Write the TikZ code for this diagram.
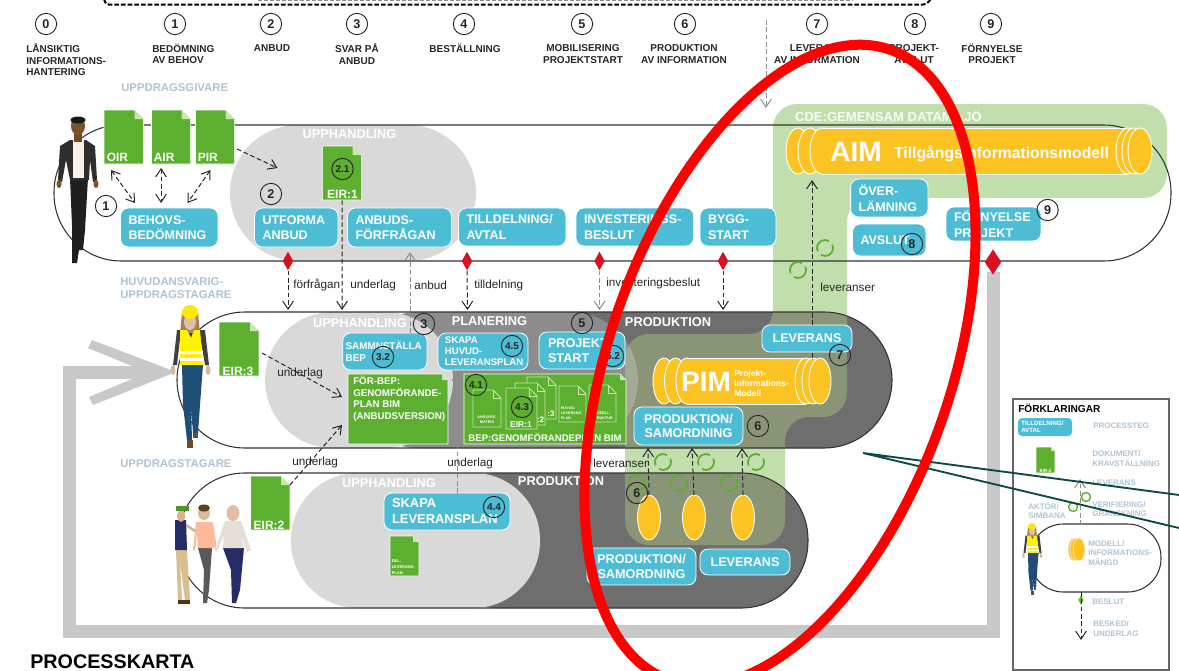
\documentclass[tikz,border=0pt]{standalone}
\usepackage{fontspec}
\setmainfont{Liberation Sans}
\usetikzlibrary{arrows.meta,shapes.geometric}
\definecolor{bluebx}{HTML}{4DBDD5}
\definecolor{docg}{HTML}{5CAF2F}
\definecolor{docf}{HTML}{C8E6B0}
\definecolor{cde}{HTML}{C1DFAC}
\definecolor{olive}{HTML}{8A9577}
\definecolor{olivel}{HTML}{A3AB95}
\definecolor{gl}{HTML}{D9D9D9}
\definecolor{gm}{HTML}{8C8C8C}
\definecolor{gd}{HTML}{6E6E6E}
\definecolor{band}{HTML}{C8C8C8}
\definecolor{yel}{HTML}{FDC323}
\definecolor{red1}{HTML}{D9101E}
\definecolor{actor}{HTML}{B0C4D4}
\definecolor{teal1}{HTML}{0B4A45}
\definecolor{cyc1}{HTML}{5AAF2D}
\definecolor{jeans}{HTML}{1F4E79}
\definecolor{navy1}{HTML}{252C66}
\definecolor{khaki}{HTML}{D9BE8E}
\definecolor{skin1}{HTML}{E0BFA5}
\newcommand\fs[2]{\fontsize{#1}{#2}\selectfont\bfseries}
\tikzset{
 lab/.style={inner sep=0pt,font=\fs{7.5}{8.6},text=black!85,align=center},
 actorlab/.style={inner sep=0pt,font=\fs{8.5}{9.8},text=actor,align=left,anchor=west},
 whead/.style={inner sep=0pt,font=\fs{9.6}{11},text=white},
 flowtxt/.style={inner sep=0pt,font=\fontsize{8.8}{10}\selectfont,text=black!85},
 leg/.style={inner sep=0pt,font=\fs{6}{7},text=actor,align=left,anchor=west},
 bluebox/.style={rectangle,rounded corners=6pt,fill=bluebx,draw=white,line width=.6pt,text=white,inner ysep=0pt,font=\fs{9.4}{11.6}},
 numc/.style={circle,draw=black!85,line width=.7pt,minimum size=16pt,inner sep=0pt,font=\fs{9.5}{11},text=black!85},
 subc/.style={numc,font=\fs{7.5}{9}},
 reddia/.style={diamond,fill=red1,inner sep=0pt,minimum width=8pt,minimum height=14pt},
 arr/.style={draw=black!85,line width=.75pt,dash pattern=on 3.5pt off 2pt,-{Straight Barb[length=6pt,width=8pt]}},
 garr/.style={arr,draw=black!45},
 dblarr/.style={arr,{Straight Barb[length=6pt,width=8pt]}-{Straight Barb[length=6pt,width=8pt]}},
 stad/.style={draw=black!80,line width=.8pt},
 cyc/.style={draw=cyc1,line width=1.3pt},
 worker/.pic={
  \fill[black!75] (-9,25)--(9,25)--(10,60)--(-9,60)--cycle;
  \fill[black!75] (-13,25)--(-9,25)--(-13,60)--(-17,60)--cycle;
  \fill[black!75] (9,25)--(15,25)--(19,60)--(15,60)--cycle;
  \fill[skin1!85!brown] (-17,65) ellipse[x radius=2.5,y radius=5];
  \fill[skin1!85!brown] (18,65) ellipse[x radius=2.5,y radius=5];
  \fill[brown!60!gray] (-8,8)--(8,8)--(10,28)--(-10,28)--cycle;
  \fill[skin1] (0,17) ellipse[x radius=6,y radius=8];
  \fill[yellow!92!orange] (0,7) ellipse[x radius=8,y radius=7];
  \fill[yellow!92!orange] (-9,8) rectangle (9,10);
  \fill[yellow] (-10,25)--(-3,25)--(1,33)--(4,25)--(10,25)--(13,60)--(-10,60)--cycle;
  \fill[white] (-10,46) rectangle (12.5,49);
  \fill[white] (-10,53) rectangle (13,56);
  \fill[black!60] (-8,60) -- (13,60) -- (13,61) -- (-8,61) -- cycle;
  \fill[jeans] (-8,60)--(13,60)--(10,100)--(8,128)--(3,128)--(1,100)--(2,135)--(-3,135)--(-7,100)--cycle;
  \fill[brown!60!black] (-3,135) rectangle (3,143);
  \fill[brown!60!black] (3,128) rectangle (8,133);
 }
}
\def\bxi{6}
% blue box: [options]{name}{x1}{y1}{x2}{y2}{text}
\newcommand\bbox[7][align=left]{%
 \pgfmathsetmacro\bw{(#5-#3)*0.75}%
 \pgfmathsetmacro\bh{(#6-#4)*0.75}%
 \pgfmathsetmacro\tw{\bw-2*\bxi}%
 \node[bluebox,minimum width=\bw pt,minimum height=\bh pt,text width=\tw pt,inner xsep=\bxi pt,#1] (#2) at ({(#3+#5)/2},{(#4+#6)/2}) {#7};%
}
% document: {name}{x1}{y1}{x2}{y2}{fold}
\newcommand\docu[6]{%
 \fill[docg,draw=white,line width=.4pt] (#2,#3)--({#4-#6},#3)--(#4,{#3+#6})--(#4,#5)--(#2,#5)--cycle;
 \fill[docf] ({#4-#6},#3)--(#4,{#3+#6})--({#4-#6},{#3+#6})--cycle;
 \pgfmathsetmacro\bw{(#4-#2)*0.75}\pgfmathsetmacro\bh{(#5-#3)*0.75}%
 \node[inner sep=0pt,minimum width=\bw pt,minimum height=\bh pt] (#1) at ({(#2+#4)/2},{(#3+#5)/2}) {};%
}
\newcommand\odoc[5]{%
 \filldraw[fill=docg,draw=docf,line width=.6pt] (#1,#2)--({#3-#5},#2)--(#3,{#2+#5})--(#3,#4)--(#1,#4)--cycle;
 \draw[docf,line width=.5pt] ({#3-#5},#2)--({#3-#5},{#2+#5})--(#3,{#2+#5});
}
% cylinder: {x1}{dLeft}{rx}{e1}{dRight}{yc}{ry}
\newcommand\cyl[7]{%
 \filldraw[fill=yel,draw=white,line width=.7pt] ({#1+#3},#6) ellipse[x radius=#3,y radius=#7];
 \filldraw[fill=yel,draw=white,line width=.7pt] ({#1+#3+#2},#6) ellipse[x radius=#3,y radius=#7];
 \filldraw[fill=yel,draw=white,line width=.7pt] ({#1+#3+2*#2},#6) ellipse[x radius=#3,y radius=#7];
 \fill[yel] ({#1+#3+2*#2},{#6-#7}) rectangle ({#4+#3},{#6+#7});
 \draw[white,line width=.7pt] ({#1+#3+2*#2},{#6-#7}) -- ({#4+#3},{#6-#7}) ({#1+#3+2*#2},{#6+#7}) -- ({#4+#3},{#6+#7});
 \filldraw[fill=yel,draw=white,line width=.7pt] ({#4+#3},#6) ellipse[x radius=#3,y radius=#7];
 \filldraw[fill=yel,draw=white,line width=.7pt] ({#4+#5+#3},#6) ellipse[x radius=#3,y radius=#7];
 \filldraw[fill=yel,draw=white,line width=.7pt] ({#4+2*#5+#3},#6) ellipse[x radius=#3,y radius=#7];
}
\newcommand\cycmark[3]{%
 \draw[cyc] (#1,#2) ++(335:#3) arc[start angle=335,end angle=480,radius=#3];
 \draw[cyc] (#1,#2) ++(155:#3) arc[start angle=155,end angle=300,radius=#3];
}
\def\cdepath{(900,104)--(1167,104)--(1167,198)--(847,198)--(847,417)--(785,417)--(785,545)--(625,545)--(625,334)--(773,334)--(773,104)--cycle}
\begin{document}
\begin{tikzpicture}[x=.75pt,y=-.75pt]
\useasboundingbox (0,0) rectangle (1179,671);
\fill[white] (0,0) rectangle (1179,671);
% top dashed bracket
\draw[black!45,line width=.7pt,dash pattern=on 3pt off 1.5pt] (258,.6)--(853,.6);
\draw[black,line width=1.5pt,dash pattern=on 3.5pt off 1.5pt,rounded corners=2pt] (104,-1)--(106,4.5)--(926,4.5)--(931,-1);
% feedback band
\draw[band,line width=9.75pt] (993,272)--(993,631.5)--(69,631.5)--(69,372.5)--(140,372.5);
\fill[band] (92,340)--(176,372)--(93,405)--(89,397)--(132,379)--(132,366)--(88,348)--cycle;
% CDE area
\fill[cde,rounded corners=18pt] \cdepath;
% fills lane 1
\fill[gl,rounded corners=51pt] (230,125) rectangle (476,261);
% fills lane 2
\fill[gd,rounded corners=51pt] (405,312) rectangle (892,448);
\fill[gm,rounded corners=51pt] (350,312) rectangle (638,448);
\fill[gl,rounded corners=51pt] (265,312) rectangle (453,448);
% fills lane 3
\fill[gd,rounded corners=50pt] (430,473) rectangle (808,608);
\fill[gl,rounded corners=50pt] (291,473) rectangle (540,608);
% olive overlap
\begin{scope}
 \clip[rounded corners=18pt] \cdepath;
 \fill[olive,rounded corners=51pt] (405,312) rectangle (892,448);
 \fill[olivel,rounded corners=51pt] (350,312) rectangle (638,448);
 \fill[olive,rounded corners=50pt] (430,473) rectangle (808,608);
\end{scope}
% lane outlines
\draw[stad,rounded corners=50.5pt] (54,125) rectangle (1171,261);
\draw[stad,rounded corners=51pt] (177,312) rectangle (892,448);
\draw[stad,rounded corners=50pt] (178,473) rectangle (808,608);
% header
\foreach \n/\x/\t in {h0/46/0,h1/175/1,h2/271/2,h3/357/3,h4/464/4,h5/582/5,h6/685/6,h7/817/7,h8/915/8,h9/991/9}
 \node[numc] (\n) at (\x,24) {\t};
\node[lab,align=left,anchor=west] (t0) at (26,60) {LÅNSIKTIG\\INFORMATIONS-\\HANTERING};
\node[lab,align=left,anchor=west] (t1) at (152,54) {BEDÖMNING\\AV BEHOV};
\node[lab] (t2) at (272,48) {ANBUD};
\node[lab] (t3) at (357,54) {SVAR PÅ\\ANBUD};
\node[lab] (t4) at (465,48) {BESTÄLLNING};
\node[lab] (t5) at (583,54) {MOBILISERING\\PROJEKTSTART};
\node[lab] (t6) at (684,54) {PRODUKTION\\AV INFORMATION};
\node[lab] (t7) at (817,54) {LEVERANS\\AV INFORMATION};
\node[lab] (t8) at (914,54) {PROJEKT-\\AVSLUT};
\node[lab] (t9) at (992,54) {FÖRNYELSE\\PROJEKT};
\node[actorlab] (a1) at (121,88) {UPPDRAGSGIVARE};
\node[actorlab] (a2) at (120,288.5) {HUVUDANSVARIG-\\UPPDRAGSTAGARE};
\node[actorlab] (a3) at (120,464) {UPPDRAGSTAGARE};
\node[whead] (w1) at (349.5,134) {UPPHANDLING};
\node[whead] (w2) at (360,323) {UPPHANDLING};
\node[whead] (w3) at (489.5,321) {PLANERING};
\node[whead] (w4) at (668,322) {PRODUKTION};
\node[whead] (w5) at (389,483) {UPPHANDLING};
\node[whead] (w6) at (561,481) {PRODUKTION};
\node[whead,font=\fs{9.8}{11},text=white!92!cde] (w7) at (888.5,116) {CDE:GEMENSAM DATAMILJÖ};
% cylinders
\cyl{786}{12}{12}{1116}{6}{151}{23}
\node[inner sep=0pt,font=\fs{21}{24},text=white] (aim) at (856,152) {AIM};
\node[inner sep=0pt,font=\fs{11.8}{13},text=white] (aimt) at (1001.5,154) {Tillgångsinformationsmodell};
\cyl{653}{11.5}{11}{795}{7}{381}{23}
\node[inner sep=0pt,font=\fs{21}{24},text=white] (pim) at (706,382) {PIM};
\node[inner sep=0pt,font=\fs{6.4}{7.5},text=white,align=left,anchor=west] (pimt) at (734,383) {Projekt-\\Informations-\\Modell};
\filldraw[fill=yel,draw=white,line width=.6pt] (649,517.5) ellipse[x radius=11.5,y radius=22.5];
\filldraw[fill=yel,draw=white,line width=.6pt] (694,517.5) ellipse[x radius=11.5,y radius=22.5];
\filldraw[fill=yel,draw=white,line width=.6pt] (743,517.5) ellipse[x radius=11.5,y radius=22.5];
\coordinate (ov1) at (649,495);\coordinate (ov2) at (694,495);\coordinate (ov3) at (743,495);
% blue boxes lane 1
\bbox{behov}{120.5}{208}{218}{247}{BEHOVS-\\BEDÖMNING}
\bbox{utf}{254.5}{208}{338}{247}{UTFORMA\\ANBUD}
\bbox{anb}{347.5}{208}{451.5}{247}{ANBUDS-\\FÖRFRÅGAN}
\bbox{till}{458.5}{208}{566}{246}{TILLDELNING/\\AVTAL}
\bbox{inv}{576}{208}{693.7}{246}{INVESTERINGS-\\BESLUT}
\bbox{bygg}{700}{208}{776}{246}{BYGG-\\START}
\bbox{over}{850.6}{179}{928}{217}{ÖVER-\\LÄMNING}
\bbox{avsl}{852.5}{224}{926}{256}{AVSLUT}
\bbox{forn}{946}{207}{1041}{241}{FÖRNYELSE\\PROJEKT}
% lane 2 boxes
\def\bxi{2.2}
\bbox[align=left,font=\fs{7.4}{9}]{samm}{342.7}{333}{427}{370}{SAMMNSTÄLLA\\BEP}
\def\bxi{5.2}
\bbox[align=left,font=\fs{7.2}{8.25}]{skhuv}{438}{333}{528}{370}{SKAPA\\HUVUD-\\LEVERANSPLAN}
\def\bxi{6.75}
\bbox[align=left,font=\fs{9.5}{11.2}]{proj}{539}{332}{625}{369}{PROJEKT-\\START}
\def\bxi{3}
\bbox[align=center,font=\fs{9.5}{11}]{lev}{762}{325}{852}{352}{LEVERANS}
\bbox[align=center,font=\fs{9.5}{10.7}]{prodsam}{634}{407}{743}{445}{PRODUKTION/\\SAMORDNING}
% lane 3 boxes
\def\bxi{6}
\bbox[align=left,font=\fs{9.7}{12}]{sklev}{384}{493}{510}{530}{SKAPA\\LEVERANSPLAN}
\def\bxi{3}
\bbox[align=center,font=\fs{9.5}{10.7}]{prodsam2}{587}{548}{696}{585}{PRODUKTION/\\SAMORDNING}
\bbox[align=center,font=\fs{9.5}{11}]{lev2}{700}{549}{790}{575}{LEVERANS}
% documents
\docu{oir}{104}{110}{143.5}{164}{9}
\docu{air}{151.5}{110}{190.6}{164}{9}
\docu{pir}{195.5}{110}{234.6}{164}{9}
\node[inner sep=0pt,font=\fs{9}{10},text=white,anchor=west] (oirl) at (106.5,157) {OIR};
\node[inner sep=0pt,font=\fs{9}{10},text=white,anchor=west] (airl) at (153.5,157) {AIR};
\node[inner sep=0pt,font=\fs{9}{10},text=white,anchor=west] (pirl) at (197.5,157) {PIR};
\docu{eira}{322.6}{146}{361.6}{200}{9}
\node[inner sep=0pt,font=\fs{9}{10},text=white] (eiral) at (342.5,194) {EIR:1};
\docu{eirc}{219}{322}{259}{376}{9}
\node[inner sep=0pt,font=\fs{9}{10},text=white] (eircl) at (238,371) {EIR:3};
\docu{eirb}{250.5}{476}{290}{530}{9}
\node[inner sep=0pt,font=\fs{9}{10},text=white] (eirbl) at (269,525) {EIR:2};
\docu{forbep}{348}{374}{448}{444}{6}
\node[inner sep=0pt,font=\fs{7.3}{8.6},text=white,align=left,anchor=west] (fbt) at (353,399) {FÖR-BEP:\\GENOMFÖRANDE-\\PLAN BIM\\(ANBUDSVERSION)};
\docu{bepd}{464}{374}{626}{444}{6}
\node[inner sep=0pt,font=\fs{7.2}{8.6},text=white] (bept) at (545,437) {BEP:GENOMFÖRANDEPLAN BIM};
\odoc{473}{390}{501}{427}{8}
\node[inner sep=0pt,font=\fs{2.8}{3.6},text=white,align=center] (ansv) at (487,420) {ANSVARS-\\MATRIS};
\odoc{527}{377}{556}{419}{8}
\node[inner sep=0pt,font=\fs{6}{7},text=white] (n3) at (551,414) {:3};
\odoc{515}{383}{545}{425}{8}
\node[inner sep=0pt,font=\fs{6}{7},text=white] (n2) at (540.5,420) {:2};
\odoc{506}{388}{537}{429}{8}
\node[inner sep=0pt,font=\fs{6.4}{7.5},text=white] (eir1s) at (521,424.5) {EIR:1};
\odoc{559}{386}{586}{422}{8}
\node[inner sep=0pt,font=\fs{2.8}{3.6},text=white,align=left,anchor=west] (hlp) at (560.5,413) {HUVUD-\\LEVERANS-\\PLAN};
\odoc{589}{385}{616}{422}{8}
\node[inner sep=0pt,font=\fs{2.8}{3.6},text=white,align=center] (mst) at (602.5,416) {MODELL-\\STRUKTUR};
\docu{dellev}{390}{536}{419}{576}{6}
\node[inner sep=0pt,font=\fs{3}{4.3},text=white,align=left,anchor=west] (delt) at (391.5,567) {DEL-\\LEVERANS-\\PLAN};
% green cycles
\cycmark{663}{462}{8}\cycmark{706}{462}{8}\cycmark{756}{462}{8}
\cycmark{637}{483}{8}\cycmark{679}{483}{8}\cycmark{729}{483}{8}
\cycmark{798}{270}{8}\cycmark{825}{248}{8}
% diamonds
\node[reddia] (d1) at (288,261) {};
\node[reddia] (d2) at (467,261) {};
\node[reddia] (d3) at (599.5,261) {};
\node[reddia] (d4) at (723,261) {};
\node[reddia,minimum width=12.5pt,minimum height=19pt] (d5) at (993,262) {};
% connector ends
\coordinate (e1) at (288,310);\coordinate (e2) at (342,310);\coordinate (e3a) at (410,333);\coordinate (e3) at (410,252);
\coordinate (e4) at (467.5,310);\coordinate (e5) at (599.5,310);\coordinate (e6) at (723,310);
\coordinate (pa) at (237,149);\coordinate (pb) at (277.5,168);
\coordinate (oa) at (111,170);\coordinate (ob) at (135,203);
\coordinate (aa) at (161,168);\coordinate (ab) at (161,203);
\coordinate (ra) at (210.5,170);\coordinate (rb) at (187.5,203);
\coordinate (ca) at (262,353);\coordinate (cb) at (342,397);
\coordinate (ba) at (290,485);\coordinate (bb) at (342,425);
\coordinate (sa) at (457.5,493);\coordinate (sb) at (457.5,372);
\coordinate (la) at (812,325);\coordinate (lb) at (812,180);
\coordinate (pt) at (812,358);\coordinate (lt) at (812,352);
\coordinate (ta) at (766,20);\coordinate (tb) at (766,108);
\coordinate (u1) at (648,448);\coordinate (u2) at (692,448);\coordinate (u3) at (742,448);
% connectors
\draw[arr] (d1.south)--(e1);
\draw[arr] (eira.south)--(e2);
\draw[garr] (e3a)--(e3);
\draw[arr] (d2.south)--(e4);
\draw[garr] (d3.south)--(e5);
\draw[arr] (d4.south)--(e6);
\draw[arr] (pa)--(pb);
\draw[dblarr] (oa)--(ob);
\draw[dblarr] (aa)--(ab);
\draw[dblarr] (ra)--(rb);
\draw[arr] (ca)--(cb);
\draw[arr] (ba)--(bb);
\draw[garr] (sa)--(sb);
\draw[arr] (la)--(lb);
\draw[draw=black!85,line width=.7pt,dash pattern=on 3.5pt off 2pt] (pt)--(lt);
\draw[garr] (ta)--(tb);
\draw[arr] (ov1)--(u1);
\draw[arr] (ov2)--(u2);
\draw[arr] (ov3)--(u3);
% flow labels
\node[flowtxt,anchor=west] (f1) at (293,285) {förfrågan};
\node[flowtxt,anchor=west] (f2) at (350,285) {underlag};
\node[flowtxt,anchor=west] (f3) at (414,285) {anbud};
\node[flowtxt,anchor=west] (f4) at (474,285) {tilldelning};
\node[flowtxt,anchor=west] (f5) at (606,283) {investeringsbeslut};
\node[flowtxt,anchor=west] (f6) at (820,287) {leveranser};
\node[flowtxt,anchor=west] (f7) at (277,373) {underlag};
\node[flowtxt,anchor=west] (f8) at (292,462) {underlag};
\node[flowtxt,anchor=west] (f9) at (447,463) {underlag};
\node[flowtxt,anchor=west] (f10) at (593,463) {leveranser};
% numbered circles
\node[numc] (c1) at (106,206) {1};
\node[numc] (c2) at (271,194) {2};
\node[subc] (c21) at (342.5,169) {2.1};
\node[numc] (c3) at (424,324) {3};
\node[subc] (c32) at (383,357) {3.2};
\node[subc] (c45) at (512,346) {4.5};
\node[numc] (c5) at (582,323) {5};
\node[subc] (c52) at (613,356) {5.2};
\node[subc] (c41) at (476,385) {4.1};
\node[subc] (c43) at (522,407) {4.3};
\node[subc] (c44) at (494,507) {4.4};
\node[numc] (c6) at (758,426) {6};
\node[numc] (c6b) at (637,493) {6};
\node[numc] (c7) at (840,355) {7};
\node[numc] (c8) at (912,244) {8};
\node[numc] (c9) at (1047.6,210) {9};
% man in suit
\fill[black!88] (70,178)--(88,178)--(85,230)--(83,250)--(79,250)--(77,263)--(72,263)--(72,225)--cycle;
\fill[black!82] (70,140)--(86,140)--(95,146)--(97,180)--(93,182)--(90,160)--(89,180)--(70,180)--(66,160)--(62,182)--(58,180)--(60,146)--cycle;
\fill[white!90!brown] (73,140)--(84,140)--(84,178)--(73,178)--cycle;
\fill[brown!60!black] (74,133) rectangle (82,142);
\fill[brown!65!black] (78,126) ellipse[x radius=7,y radius=9];
\fill[black!90] (78,120) ellipse[x radius=7.5,y radius=3.5];
\fill[brown!65!black] (59,184) ellipse[x radius=2.5,y radius=4];
\fill[brown!65!black] (96,184) ellipse[x radius=2.5,y radius=4];
% worker
\pic at (190,305) {worker};
% group of people
\fill[khaki] (176,550)--(187,550)--(190,600)--(185,600)--(180,562)--(182,600)--(178,600)--cycle;
\fill[black!60!brown] (178,600) rectangle (190,604);
\draw[skin1!80!brown,line width=1.8pt] (186,525)--(198,533);
\fill[navy1] (175,520)--(186,520)--(187,550)--(175,550)--cycle;
\fill[skin1!80!brown] (181,516) ellipse[x radius=4,y radius=6];
\fill[docg!85!black] (176,506) rectangle (189,511);
\fill[black] (196,530) rectangle (200,534);
\fill[black!65] (198,548)--(212,548)--(209,590)--(207,603)--(203,603)--(204,570)--cycle;
\fill[orange!60!red!40!white] (196,522)--(212,522)--(214,548)--(198,548)--cycle;
\draw[orange!60!red!40!white,line width=1.6pt] (197,523)--(194,550);
\draw[orange!60!red!40!white,line width=1.6pt] (212,523)--(216,550);
\fill[skin1!90!brown] (204,513) ellipse[x radius=6,y radius=7];
\fill[brown!50!black] (204,508) ellipse[x radius=6,y radius=3.5];
\fill[navy1] (223,548)--(244,548)--(240,590)--(236,603)--(232,603)--(231,570)--cycle;
\fill[brown!10!white!92!black] (225,521)--(241,521)--(251,550)--(247,552)--(241,535)--(244,548)--(223,548)--(224,535)--(217,552)--(215,550)--cycle;
\fill[skin1] (233,513) ellipse[x radius=6.5,y radius=8];
% legend
\draw[black!60,line width=.9pt] (1013,399) rectangle (1169,670);
\node[inner sep=0pt,font=\fs{7.6}{9},text=black,anchor=west] (lg0) at (1018,408) {FÖRKLARINGAR};
\node[rectangle,rounded corners=3pt,fill=bluebx,inner sep=0pt,minimum width=40.5pt,minimum height=13.5pt] (lg1) at (1045,427) {};
\node[inner sep=0pt,font=\fs{4.6}{5.4},text=white,align=left,anchor=west] (lg1t) at (1021,427) {TILLDELNING/\\AVTAL};
\node[leg] (lg2) at (1093,426) {PROCESSTEG};
\docu{lgdoc}{1036}{447}{1055}{473}{4}
\node[inner sep=0pt,font=\fs{3.4}{4},text=white] (lgdt) at (1045.5,471) {EIR:2};
\node[leg] (lg3) at (1092,458.5) {DOKUMENT/\\KRAVSTÄLLNING};
\node[leg] (lg4) at (1092,483) {LEVERANS};
\node[leg] (lg5) at (1092,509) {VERIFIERING/\\GRANSKNING};
\node[leg] (lg6) at (1028,510.5) {AKTÖR/\\SIMBANA};
\draw[stad,rounded corners=25pt] (1030,524) rectangle (1161,592);
\coordinate (lsa) at (1080,525);\coordinate (lsb) at (1080,479);
\draw[garr] (lsa)--(lsb);
\draw[cyc,line width=1pt] (1086,497) circle[radius=4.5];
\draw[cyc,line width=1pt] (1073,507) circle[radius=4.5];
\filldraw[fill=yel,draw=white,line width=.3pt] (1074,549.5) ellipse[x radius=6,y radius=11.5];
\filldraw[fill=yel,draw=white,line width=.3pt] (1076,549.5) ellipse[x radius=6,y radius=11.5];
\filldraw[fill=yel,draw=white,line width=.3pt] (1079,549.5) ellipse[x radius=6,y radius=11.5];
\node[leg] (lg7) at (1088,553) {MODELL/\\INFORMATIONS-\\MÄNGD};
\node[leg] (lg8) at (1092,602) {BESLUT};
\node[diamond,fill=docg,inner sep=0pt,minimum width=4pt,minimum height=7pt] (lgd) at (1081,600) {};
\coordinate (lga) at (1081,592);\coordinate (lgb) at (1081,640);
\draw[arr] (lga)--(lgb);
\node[leg] (lg9) at (1093,628.5) {BESKED/\\UNDERLAG};
\pic[scale=.5] at (1032,523) {worker};
% title
\node[inner sep=0pt,font=\fs{14.8}{17},text=black,anchor=west] (title) at (30,662) {PROCESSKARTA};
% annotations
\coordinate (x1) at (863,453);\coordinate (x2) at (1179,495);\coordinate (x3) at (1179,528);
\draw[teal1,line width=1.4pt] (x2)--(x1)--(x3);
\draw[red,line width=7.5pt,rotate around={-19.3:(780,365)}] (780,365) ellipse[x radius=171,y radius=334];
\end{tikzpicture}
\end{document}
